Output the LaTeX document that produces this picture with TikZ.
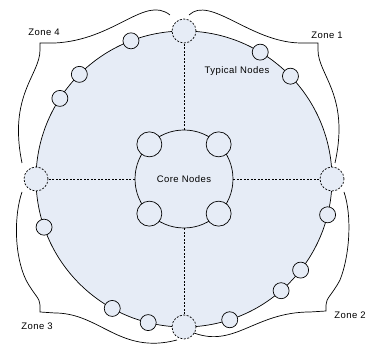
\documentclass[tikz,border=0pt]{standalone}
\usepackage{fontspec}
\setmainfont{Liberation Sans}[LetterSpace=5]
\usepackage{tikz}

\definecolor{zonefill}{RGB}{230,236,246}

\tikzset{
  gateway/.style={circle, draw, dash pattern=on 2pt off 1.5pt, fill=zonefill, minimum size=24pt, inner sep=0pt},
  member/.style={circle, draw, fill=zonefill, minimum size=16pt, inner sep=0pt},
  corenode/.style={circle, draw, fill=zonefill, minimum size=25pt, inner sep=0pt},
  link/.style={dash pattern=on 2pt off 1.5pt}
}

\begin{document}
\begin{tikzpicture}[x=1pt, y=-1pt, line width=0.7pt, font=\fontsize{9.5}{11}\selectfont]
    \useasboundingbox (0,0) rectangle (368,347);

    \coordinate (hub) at (184,179);
    \node[circle, draw, fill=zonefill, minimum size=296pt] (ring) at (hub) {};
    \node[circle, draw, fill=zonefill, minimum size=98pt, inner sep=0pt] (core) at (hub) {Core Nodes};

    % gateways between the zones
    \node[gateway] (gR) at ([shift={(0:148)}]hub) {};
    \node[gateway] (gB) at ([shift={(90:148)}]hub) {};
    \node[gateway] (gL) at ([shift={(180:148)}]hub) {};
    \node[gateway] (gT) at ([shift={(-90:148)}]hub) {};

    \draw[link] (core) -- (gR);
    \draw[link] (core) -- (gB);
    \draw[link] (core) -- (gL);
    \draw[link] (core) -- (gT);

    % core nodes
    \foreach \a/\n in {-135/cTL, -45/cTR, 135/cBL, 45/cBR}
        \node[corenode] (\n) at ([shift={(\a:49)}]hub) {};

    % typical nodes on the ring
    \foreach \a [count=\i] in {-111,-135,-147,-59,-44,14,38,49,72,104,119,161}
        \node[member] (m\i) at ([shift={(\a:148)}]hub) {};

    \node (typical) at (237,71) {Typical Nodes};

    % zone braces
    \draw (170,15) .. controls (145,-5) and (115,40) .. (55,43) -- (40,43) -- (40,50)
        .. controls (40,75) and (8,95) .. (22,163);
    \draw (189,15) .. controls (210,-5) and (250,42) .. (300,43) -- (318,43) -- (318,50)
        .. controls (318,75) and (350,95) .. (335,163);
    \draw (344,192) .. controls (352,215) and (350,255) .. (340,280)
        .. controls (332,295) and (326,298) .. (326,305) -- (326,311) -- (310,312)
        .. controls (255,312) and (235,348) .. (194,333);
    \draw (22,192) .. controls (14,215) and (14,255) .. (26,280)
        .. controls (34,295) and (40,298) .. (40,305) -- (40,312) -- (55,313)
        .. controls (100,313) and (120,355) .. (177,340);

    \node (zone4) at (44,32) {Zone 4};
    \node (zone1) at (327,35) {Zone 1};
    \node (zone2) at (350,315) {Zone 2};
    \node (zone3) at (37,326) {Zone 3};

\end{tikzpicture}
\end{document}
